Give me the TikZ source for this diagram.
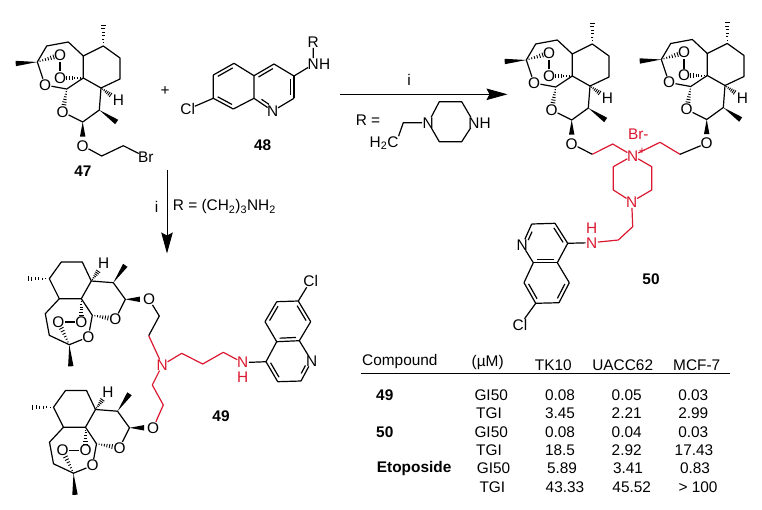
\documentclass[tikz,border=0pt]{standalone}
\usepackage{fontspec}
\setmainfont{Liberation Sans}
\usetikzlibrary{calc,arrows.meta}
\definecolor{linkred}{RGB}{218,24,48}
\newcommand{\wedgebond}[2]{\fill ($(#1)$) -- ($(#2)!2.7pt!90:(#1)$) -- ($(#2)!2.7pt!-90:(#1)$) -- cycle;}
\newcommand{\hashbond}[3][1]{%
    \foreach \f in {1,...,6}{%
        \pgfmathsetmacro\g{#1*\f/6}%
        \pgfmathsetmacro\w{0.3+\f*0.35}%
        \draw[line width=0.9pt] ($(#2)!\g!(#3)!{\w pt}!90:(#2)$) -- ($(#2)!\g!(#3)!{\w pt}!-90:(#2)$);}}
\newcommand{\dbond}[3][.14]{%
    \draw[bond] (#2) -- (#3);
    \draw[bond] ($(#2)!#1!(#3)!3.4pt!-90:(#3)$) -- ($(#3)!#1!(#2)!3.4pt!90:(#2)$);}
\tikzset{
    bond/.style={line width=1.2pt, line join=round},
    atom/.style={circle, inner sep=-1.2pt},
    artemis/.pic={
        \coordinate (me1) at (103.3,25);
        \coordinate (c1) at (103.3,46);
        \coordinate (c2) at (120,58);
        \coordinate (c3) at (120,79);
        \coordinate (c4) at (101,88);
        \coordinate (c5) at (83.3,78);
        \coordinate (c6) at (83.3,56);
        \coordinate (c7) at (68.3,42);
        \coordinate (c8) at (46.7,46);
        \coordinate (c9) at (37.3,#1);
        \coordinate (me2) at (15.7,#1+1.5);
        \coordinate (c10) at (66.7,89);
        \coordinate (c11) at (82.7,122);
        \coordinate (c12) at (99.3,110);
        \coordinate (me3) at (116.7,122);
        \coordinate (we) at (82.7,136.5);
        \node[atom] (Oa) at (45,85) {O};
        \node[atom] (Ob) at (60,55) {O};
        \node[atom] (Oc) at (60,78) {O};
        \node[atom] (Od) at (62.7,112) {O};
        \node[atom] (Ox) at (82.7,145.7) {O};
        \node[atom] (H) at (118.5,100.5) {H};
        \draw[bond] (c1) -- (c2) -- (c3) -- (c4) -- (c5) -- (c6) -- cycle;
        \draw[bond] (c6) -- (c7) -- (c8) -- (c9) -- (Oa) -- (c10) -- (c5);
        \draw[bond] (Od) -- (c11) -- (c12) -- (c4);
        \draw[bond] (Ob) -- (Oc);
        \wedgebond{c9}{me2}
        \wedgebond{c12}{me3}
        \wedgebond{c11}{we}
        \hashbond{c1}{me1}
        \hashbond[.55]{c4}{H}
        \hashbond[.72]{c9}{Ob}
        \hashbond[.72]{c5}{Oc}
        \hashbond[.68]{c10}{Od}
    }
}
\begin{document}
\begin{tikzpicture}
    [x=1pt, y=-1pt,
    every node/.style={font=\fontsize{15.4}{18}\selectfont},
    num/.style={font=\fontsize{15.4}{18}\selectfont\bfseries},
    rededge/.style={bond, linkred},
    redatom/.style={atom, text=linkred},
    head/.style={-{Stealth[length=21pt, width=11.5pt, inset=3pt]}, line width=0.9pt},
    cell/.style={inner sep=0pt},
    lcell/.style={inner sep=0pt, anchor=west}]
    \useasboundingbox (0,0) rectangle (762,509);

    \pic (ua) {artemis=62};
    \coordinate (ka1) at (101.7,156);
    \coordinate (ka2) at (123.3,145.7);
    \node[atom] (brA) at (145.7,157) {Br};
    \draw[bond] (uaOx) -- (ka1) -- (ka2) -- (brA);
    \node[num] (n47) at (83,171) {47};
    \node (plus) at (165,90.7) {+};

    \coordinate (qa) at (213.3,75);
    \coordinate (qb) at (234,63.3);
    \coordinate (qc) at (254,75.7);
    \coordinate (qd) at (254,98.3);
    \coordinate (qe) at (233.3,109);
    \coordinate (qf) at (213.3,98.3);
    \coordinate (qg) at (274,64);
    \coordinate (qh) at (294,76);
    \coordinate (qi) at (294,98.3);
    \node[atom] (qn) at (272.7,111) {N};
    \node[atom] (qcl) at (187.7,109.3) {Cl};
    \node[atom] (qnh) at (313.3,64.3) {N};
    \node[atom] (qhh) at (324.6,64.3) {H};
    \node[atom] (qr) at (313.3,41.7) {R};
    \dbond{qa}{qb}
    \dbond{qe}{qf}
    \dbond{qc}{qg}
    \dbond{qh}{qi}
    \dbond[.3]{qn}{qd}
    \draw[bond] (qa) -- (qf) -- (qcl);
    \draw[bond] (qb) -- (qc) -- (qd) -- (qe);
    \draw[bond] (qg) -- (qh);
    \draw[bond] (qi) -- (qn);
    \draw[bond] (qh) -- (qnh) -- (qr);
    \node[num] (n48) at (262.7,145) {48};

    \coordinate (a1s) at (340,94.3);
    \coordinate (a1e) at (507.5,94.3);
    \draw[head] (a1s) -- (a1e);
    \node (i1) at (409,80) {i};
    \node (req) at (368,120) {R =};
    \node[inner sep=0pt] (h2c) at (384,143) {H\textsubscript{2}C};
    \coordinate (pk) at (403.3,122.7);
    \node[atom] (pn) at (428.3,122.7) {N};
    \coordinate (pa) at (439.3,101.7);
    \coordinate (pb) at (461.7,101.7);
    \node[atom] (pm) at (474,122.7) {N};
    \node[atom] (ph) at (485.3,122.7) {H};
    \coordinate (pc) at (461.7,141.7);
    \coordinate (pd) at (439.3,141.7);
    \draw[bond] (h2c.north east) -- (pk) -- (pn);
    \draw[bond] (pn) -- (pa) -- (pb) -- (pm) -- (pc) -- (pd) -- (pn);

    \coordinate (a2s) at (167,170);
    \coordinate (a2e) at (167,253.5);
    \draw[head] (a2s) -- (a2e);
    \node (i2) at (156.7,206.7) {i};
    \node[lcell] (rb) at (172.7,207) {R = (CH\textsubscript{2})\textsubscript{3}NH\textsubscript{2}};

    \begin{scope}[shift={(489,-2)}]
        \pic (ub) {artemis=62};
    \end{scope}
    \begin{scope}[shift={(624,-2.5)}]
        \pic (uc) {artemis=62};
    \end{scope}
    \node[redatom] (nplus) at (632.7,155.7) {N};
    \node[text=linkred, font=\fontsize{11}{12}\selectfont, inner sep=0pt] (pl) at (642,151) {+};
    \node[text=linkred, inner sep=0pt] (brm) at (638.3,134.3) {Br-};
    \coordinate (kb1) at (592.3,154.3);
    \coordinate (kb2) at (612.7,144);
    \coordinate (kb3) at (660,142.3);
    \coordinate (kb4) at (680,154.3);
    \draw[bond] (ubOx) -- (kb1);
    \draw[rededge] (kb1) -- (kb2) -- (nplus) -- (kb3) -- (kb4);
    \draw[bond] (kb4) -- (ucOx);
    \coordinate (zl1) at (613.3,166.7);
    \coordinate (zl2) at (613.3,190);
    \coordinate (zr1) at (651.7,166.7);
    \coordinate (zr2) at (651.7,190);
    \node[redatom] (nz) at (631.7,201.7) {N};
    \coordinate (zk1) at (632.7,226.7);
    \coordinate (zk2) at (618.3,240);
    \node[redatom] (nzh) at (591.7,242.7) {N};
    \node[redatom] (hzh) at (591.7,228.3) {H};
    \draw[rededge] (nplus) -- (zl1) -- (zl2) -- (nz) -- (zr2) -- (zr1) -- (nplus);
    \draw[rededge] (nz) -- (zk1) -- (zk2) -- (nzh);
    \node[atom] (rn) at (522.3,245) {N};
    \coordinate (rp) at (531.7,224);
    \coordinate (rq) at (555,223.3);
    \coordinate (rr) at (567.7,243.3);
    \coordinate (rs) at (557.3,262.7);
    \coordinate (rt) at (533.3,262.7);
    \coordinate (ru) at (569.3,282.7);
    \coordinate (rv) at (559,302.7);
    \coordinate (rw) at (535.7,303.3);
    \coordinate (rx) at (524,282.7);
    \node[atom] (rcl) at (520,325) {Cl};
    \dbond[.3]{rn}{rp}
    \dbond{rq}{rr}
    \dbond{rs}{rt}
    \dbond{ru}{rv}
    \dbond{rw}{rx}
    \draw[bond] (rp) -- (rq);
    \draw[bond] (rr) -- (rs) -- (ru);
    \draw[bond] (rv) -- (rw) -- (rcl);
    \draw[bond] (rx) -- (rt) -- (rn);
    \draw[bond] (rr) -- (nzh);
    \node[num] (n50) at (651,279) {50};

    \begin{scope}[shift={(3.3,382)}, x={(0pt,1pt)}, y={(1pt,0pt)}]
        \pic (ud) {artemis=66};
    \end{scope}
    \begin{scope}[shift={(7.5,510.5)}, x={(0pt,1pt)}, y={(1pt,0pt)}]
        \pic (ue) {artemis=66};
    \end{scope}
    \coordinate (kd1) at (159.3,316);
    \coordinate (kd2) at (148.7,335.7);
    \node[redatom] (nt) at (162.3,365) {N};
    \coordinate (ke1) at (152.3,385);
    \coordinate (ke2) at (163.3,405);
    \coordinate (kf1) at (181.7,353.3);
    \coordinate (kf2) at (202.7,364);
    \coordinate (kf3) at (223.3,352.3);
    \node[redatom] (ntn) at (242.7,362.6) {N};
    \node[redatom] (nth) at (242.7,377.2) {H};
    \draw[bond] (udOx) -- (kd1) -- (kd2);
    \draw[rededge] (kd2) -- (nt) -- (ke1) -- (ke2) -- (ueOx);
    \draw[rededge] (nt) -- (kf1) -- (kf2) -- (kf3) -- (ntn);
    \coordinate (sa) at (298.3,301);
    \coordinate (sb) at (276.7,301.7);
    \coordinate (sc) at (265,321.7);
    \coordinate (sd) at (276.7,341.7);
    \coordinate (se) at (299.3,340.7);
    \coordinate (sf) at (310.7,321.7);
    \coordinate (sg) at (266,361.7);
    \coordinate (sh) at (277.7,381.7);
    \coordinate (si) at (301,381);
    \node[atom] (sn) at (311.7,361) {N};
    \node[atom] (scl) at (310.7,280.7) {Cl};
    \dbond{sa}{sf}
    \dbond{se}{sd}
    \dbond{sc}{sb}
    \dbond{sh}{sg}
    \dbond[.3]{sn}{si}
    \draw[bond] (scl) -- (sa) -- (sb);
    \draw[bond] (sc) -- (sd) -- (sg);
    \draw[bond] (sf) -- (se) -- (sn);
    \draw[bond] (si) -- (sh);
    \draw[bond] (ntn) -- (sg);
    \node[num] (n49) at (221,416) {49};

    \node[lcell] (hcomp) at (362,361.7) {Compound};
    \node[cell] (hum) at (487.7,362.7) {(µM)};
    \node[cell] (hta) at (553.3,365) {TK10};
    \node[cell] (hub) at (622.7,365) {UACC62};
    \node[cell] (hmc) at (696.7,365) {MCF-7};
    \coordinate (ruleS) at (360.7,373.3);
    \coordinate (ruleE) at (730,373.3);
    \draw[line width=0.9pt] (ruleS) -- (ruleE);
    \node[num, lcell] (t49) at (376,395) {49};
    \node[lcell] (a0) at (474.3,395) {GI50};
    \node[cell] (a1) at (560,395) {0.08};
    \node[cell] (a2) at (626.7,395) {0.05};
    \node[cell] (a3) at (693.3,395) {0.03};
    \node[lcell] (b0) at (476,413.3) {TGI};
    \node[cell] (b1) at (560,413.3) {3.45};
    \node[cell] (b2) at (626.7,413.3) {2.21};
    \node[cell] (b3) at (693.3,413.3) {2.99};
    \node[num, lcell] (t50) at (376,431.7) {50};
    \node[lcell] (c0) at (474.3,431.7) {GI50};
    \node[cell] (c1) at (560,431.7) {0.08};
    \node[cell] (c2) at (626.7,431.7) {0.04};
    \node[cell] (c3) at (693.3,431.7) {0.03};
    \node[lcell] (d0) at (476,450) {TGI};
    \node[cell] (d1) at (560,450) {18.5};
    \node[cell] (d2) at (626.7,450) {2.92};
    \node[cell] (d3) at (694,450) {17.43};
    \node[num, lcell] (teto) at (376.7,468.3) {Etoposide};
    \node[lcell] (e0) at (476.7,468.3) {GI50};
    \node[cell] (e1) at (562,468.3) {5.89};
    \node[cell] (e2) at (628,468.3) {3.41};
    \node[cell] (e3) at (695,468.3) {0.83};
    \node[lcell] (f0) at (479.3,486.7) {TGI};
    \node[cell] (f1) at (565,486.7) {43.33};
    \node[cell] (f2) at (631.7,486.7) {45.52};
    \node[cell] (f3) at (698,486.7) {> 100};
\end{tikzpicture}
\end{document}
